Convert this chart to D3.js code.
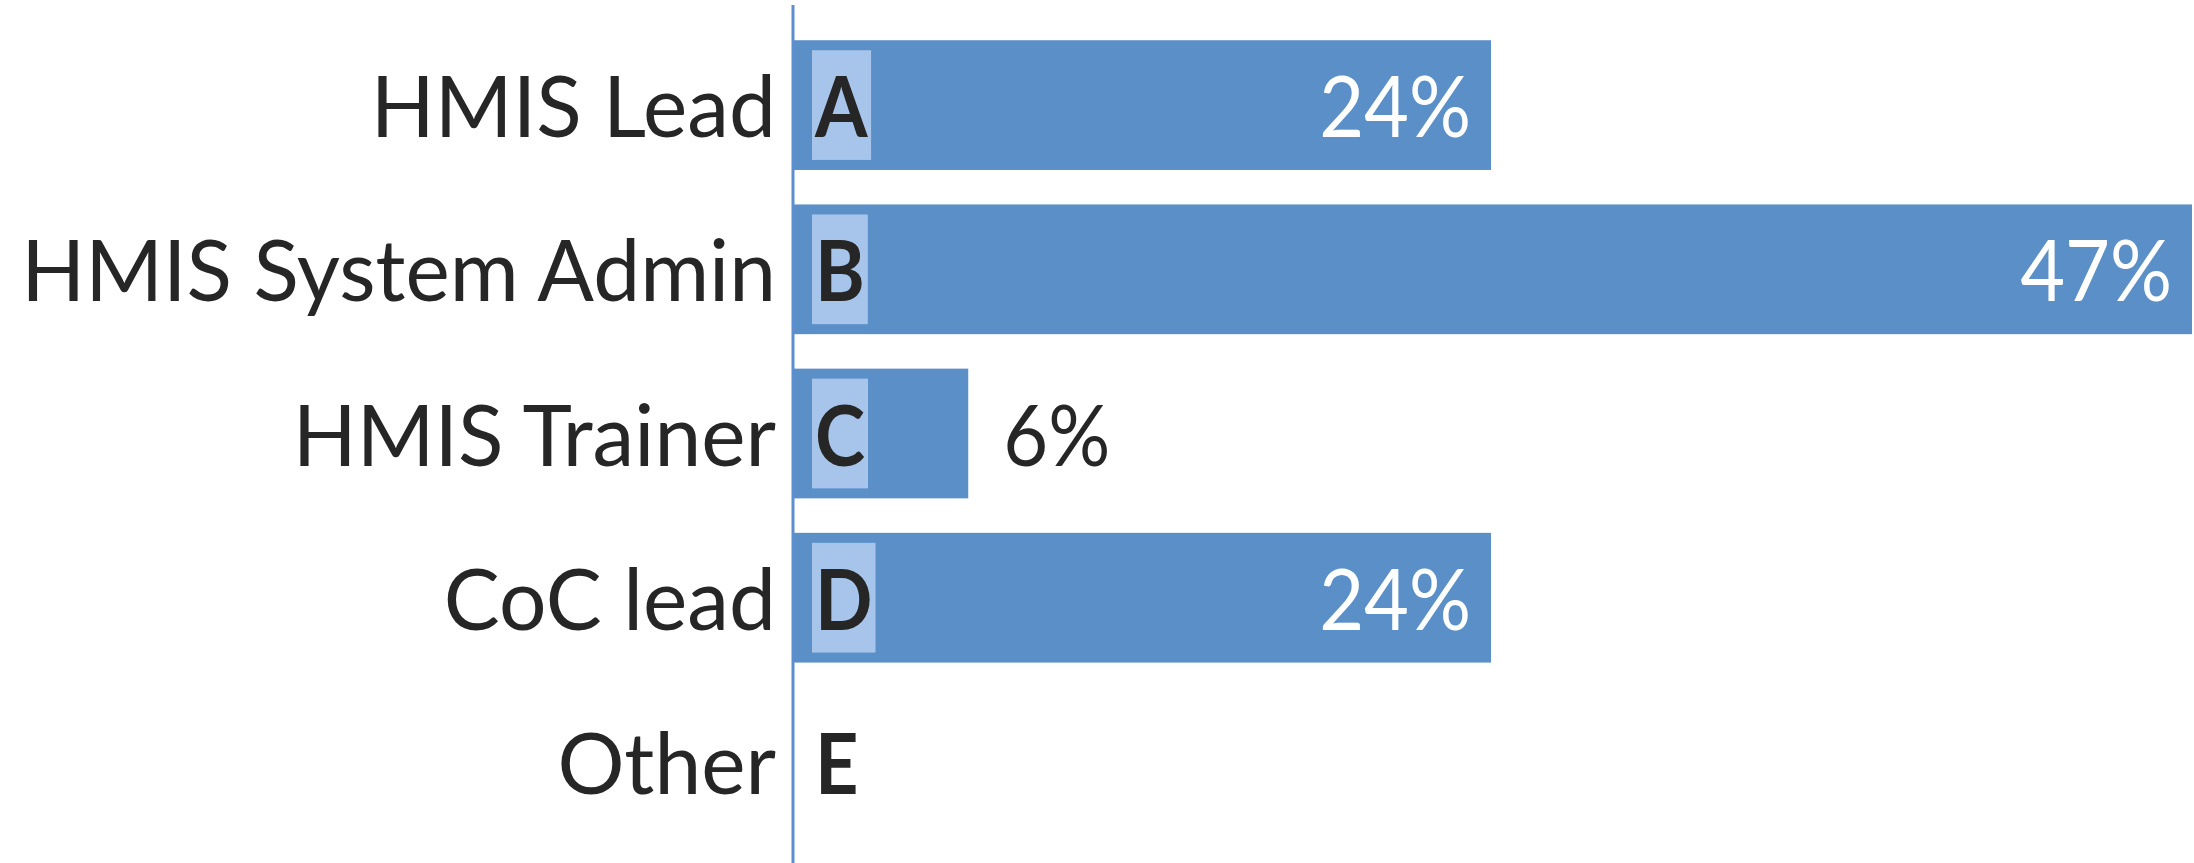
<!DOCTYPE html>
<html>
<head>
<meta charset="utf-8">
<script src="https://cdn.jsdelivr.net/npm/d3@7"></script>
<style>
  html, body { margin: 0; padding: 0; background: #ffffff; }
  svg { display: block; }
</style>
</head>
<body>
<div id="chart"></div>
<script>
// ---- data ----
const categories = ["HMIS Lead", "HMIS System Admin", "HMIS Trainer", "CoC lead", "Other"];
const letters = ["A", "B", "C", "D", "E"];
const values = [23.5, 47.1, 5.9, 23.5, 0];          // percent of respondents
const valueLabels = ["24%", "47%", "6%", "24%", ""];

// ---- layout ----
const W = 2194, H = 863;
const axisX = 793;
const svg = d3.select("#chart").append("svg").attr("width", W).attr("height", H);

const x = d3.scaleLinear().domain([0, 47.1]).range([axisX, 2192]);
const y = d3.scaleBand().domain(categories).range([23, 844]).paddingInner(0.21).paddingOuter(0.105);

const barColor = "#5b8fc8";
const boxColor = "#a7c4ea";
const font = "Lato, 'Noto Sans', sans-serif";

const data = categories.map((c, i) => ({ c, letter: letters[i], v: values[i], label: valueLabels[i] }));

function squeeze(sel, f) {
  sel.each(function () {
    const len = this.getComputedTextLength();
    d3.select(this).attr("textLength", len * f).attr("lengthAdjust", "spacingAndGlyphs");
  });
}

// bars
svg.append("g").selectAll("rect").data(data).join("rect")
  .attr("x", x(0))
  .attr("y", d => y(d.c))
  .attr("width", d => x(d.v) - x(0))
  .attr("height", y.bandwidth())
  .attr("fill", barColor);

// letter boxes + letters
const lg = svg.append("g");
data.forEach(d => {
  const cy = y(d.c) + y.bandwidth() / 2;
  const t = lg.append("text")
    .attr("x", 815)
    .attr("y", cy + 32)
    .attr("text-anchor", "start")
    .attr("font-family", font)
    .attr("font-weight", 700)
    .attr("font-size", 84)
    .attr("fill", "#262626")
    .text(d.letter);
  squeeze(t, 0.9);
  if (d.v > 0) {
    const bb = t.node().getBBox();
    lg.insert("rect", "text")
      .attr("x", 812)
      .attr("width", bb.x + bb.width + 3 - 812)
      .attr("y", y(d.c) + 10)
      .attr("height", y.bandwidth() - 20)
      .attr("fill", boxColor);
  }
});

// value labels
const inside = d => (x(d.v) - x(0) > 300);
svg.append("g").selectAll("text").data(data.filter(d => d.label)).join("text")
  .attr("x", d => inside(d) ? x(d.v) - 20 : x(d.v) + 35)
  .attr("y", d => y(d.c) + y.bandwidth() / 2 + 32)
  .attr("text-anchor", d => inside(d) ? "end" : "start")
  .attr("font-family", font)
  .attr("font-size", 86)
  .attr("fill", d => inside(d) ? "#ffffff" : "#262626")
  .text(d => d.label)
  .call(squeeze, 0.9);

// category axis
const yAxis = d3.axisLeft(y).tickSize(0).tickPadding(17);
const ag = svg.append("g").attr("transform", `translate(${axisX},0)`).call(yAxis);
ag.select(".domain").remove();
ag.selectAll(".tick text")
  .attr("font-family", font)
  .attr("font-size", 86)
  .attr("fill", "#262626")
  .attr("dy", null)
  .attr("y", 32)
  .call(squeeze, 0.975);

// vertical axis line
svg.append("line")
  .attr("x1", axisX).attr("x2", axisX)
  .attr("y1", 5).attr("y2", H)
  .attr("stroke", "#5d8fd0")
  .attr("stroke-width", 3);
</script>
</body>
</html>
